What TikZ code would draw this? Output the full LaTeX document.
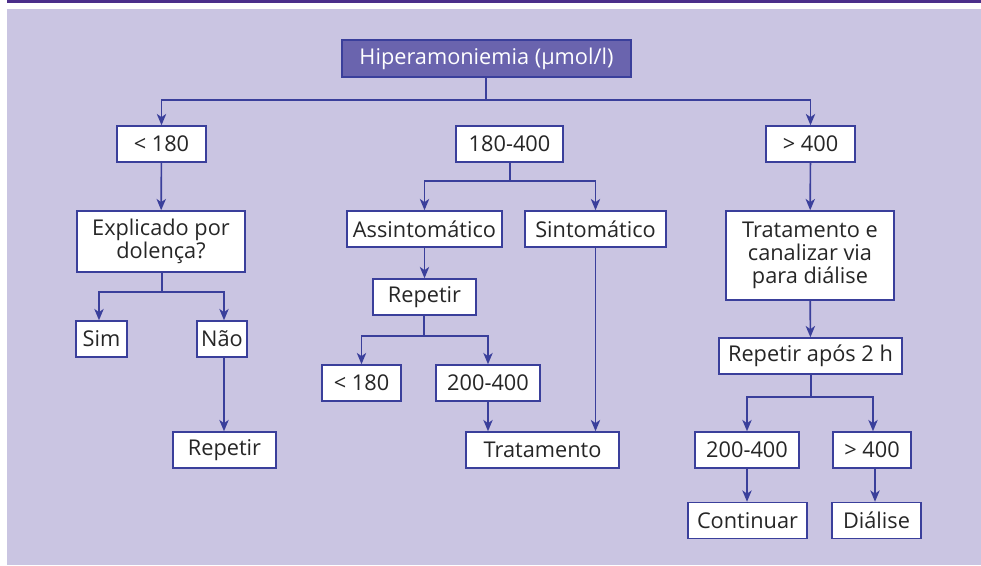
\documentclass[tikz,border=0pt]{standalone}
\usepackage{fontspec}
\setmainfont{Open Sans}
\usepackage{tikz}
\usetikzlibrary{arrows, arrows.meta, positioning, calc}
\usepackage{xcolor}

\definecolor{bgpurple}{HTML}{CAC5E2}
\definecolor{barpurple}{HTML}{4B2E8A}
\definecolor{linepurple}{HTML}{3A3F9B}
\definecolor{titlefill}{HTML}{6A64AE}
\definecolor{textgrey}{HTML}{262626}

\tikzset{
  box/.style={draw=linepurple, line width=1.1pt, fill=white, text=textgrey,
    minimum height=27pt, inner sep=1pt, align=center,
    font=\fontsize{16.3}{17.5}\selectfont},
  conn/.style={draw=linepurple, line width=1.25pt},
  arr/.style={conn, -{Stealth[length=8.5pt, width=7pt, inset=2.4pt]}}
}

\begin{document}
\begin{tikzpicture}[x=0.75pt, y=-0.75pt]
      \useasboundingbox (0,0) rectangle (981,565);
      \fill[white] (0,0) rectangle (981,565);
      \fill[barpurple] (7,0) rectangle (981,2.5);
      \fill[bgpurple] (7,9) rectangle (981,565);

      % top
      \node[box, fill=titlefill, text=white, minimum width=216.75pt, minimum height=27.75pt] (title) at (486.5,58.5) {Hiperamoniemia (μmol/l)};
      \node[box, minimum width=66.75pt] (lowA) at (161.5,144) {< 180};
      \node[box, minimum width=80.25pt] (midA) at (509.5,144) {180-400};
      \node[box, minimum width=66.75pt] (highA) at (810.5,144) {> 400};

      % left branch
      \node[box, minimum width=126pt, minimum height=45.75pt] (cause) at (161,241.5) {Explicado por\\dolença?};
      \node[box, minimum width=38.25pt] (yes) at (101.5,339) {Sim};
      \node[box, minimum width=37.5pt] (no) at (222,339) {Não};
      \node[box, minimum width=77.25pt] (repL) at (224.5,450) {Repetir};

      % middle branch
      \node[box, minimum width=116.25pt] (asym) at (424.5,229) {Assintomático};
      \node[box, minimum width=105.75pt] (sym) at (595.5,229) {Sintomático};
      \node[box, minimum width=77.25pt] (repM) at (424.5,297) {Repetir};
      \node[box, minimum width=59.25pt] (lowM) at (361.5,383) {< 180};
      \node[box, minimum width=78pt] (midM) at (488,383) {200-400};
      \node[box, minimum width=114.75pt] (treatM) at (542.5,450) {Tratamento};

      % right branch
      \node[box, minimum width=126pt, minimum height=66.75pt] (treatR) at (810,255.5) {Tratamento e\\canalizar via\\para diálise};
      \node[box, minimum width=137.25pt] (repR) at (810.5,356) {Repetir após 2 h};
      \node[box, minimum width=78pt] (midR) at (747,450) {200-400};
      \node[box, minimum width=58.5pt] (highR) at (872,450) {> 400};
      \node[box, minimum width=89.25pt] (goon) at (747.5,520.5) {Continuar};
      \node[box, minimum width=66.75pt] (dialysis) at (876.5,520.5) {Diálise};

      % junctions
      \coordinate (j0) at (486,100);
      \coordinate (j1) at (162,292);
      \coordinate (j2) at (510,181);
      \coordinate (j3) at (424,336);
      \coordinate (j4) at (811,397);

      \draw[conn] (title.south -| j0) -- (j0);
      \draw[arr] (j0) -| (lowA.north);
      \draw[arr] (j0) -| (highA.north);

      \draw[arr] (lowA) -- (cause);
      \draw[conn] (cause.south -| j1) -- (j1);
      \draw[arr] (j1) -| ($(yes.north)+(-2.5,0)$);
      \draw[arr] (j1) -| ($(no.north)+(2,0)$);
      \draw[arr] ($(no.south)+(2,0)$) -- (repL.north -| 224,0);

      \draw[conn] (midA.south -| j2) -- (j2);
      \draw[arr] (j2) -| (asym.north);
      \draw[arr] (j2) -| (sym.north);
      \draw[arr] (asym) -- (repM);
      \draw[conn] (repM.south -| j3) -- (j3);
      \draw[arr] (j3) -| (lowM.north);
      \draw[arr] (j3) -| (midM.north);
      \draw[arr] (midM.south) -- (treatM.north -| midM);
      \draw[arr] (sym.south) -- (treatM.north -| sym);

      \draw[arr] (highA) -- (treatR);
      \draw[arr] (treatR) -- (repR);
      \draw[conn] (repR.south -| j4) -- (j4);
      \draw[arr] (j4) -| (midR.north);
      \draw[arr] (j4) -| ($(highR.north)+(1,0)$);
      \draw[arr] (midR.south) -- (goon.north -| midR);
      \draw[arr] ($(highR.south)+(3,0)$) -- ($(dialysis.north)+(-1.5,0)$);

    \end{tikzpicture}
\end{document}
